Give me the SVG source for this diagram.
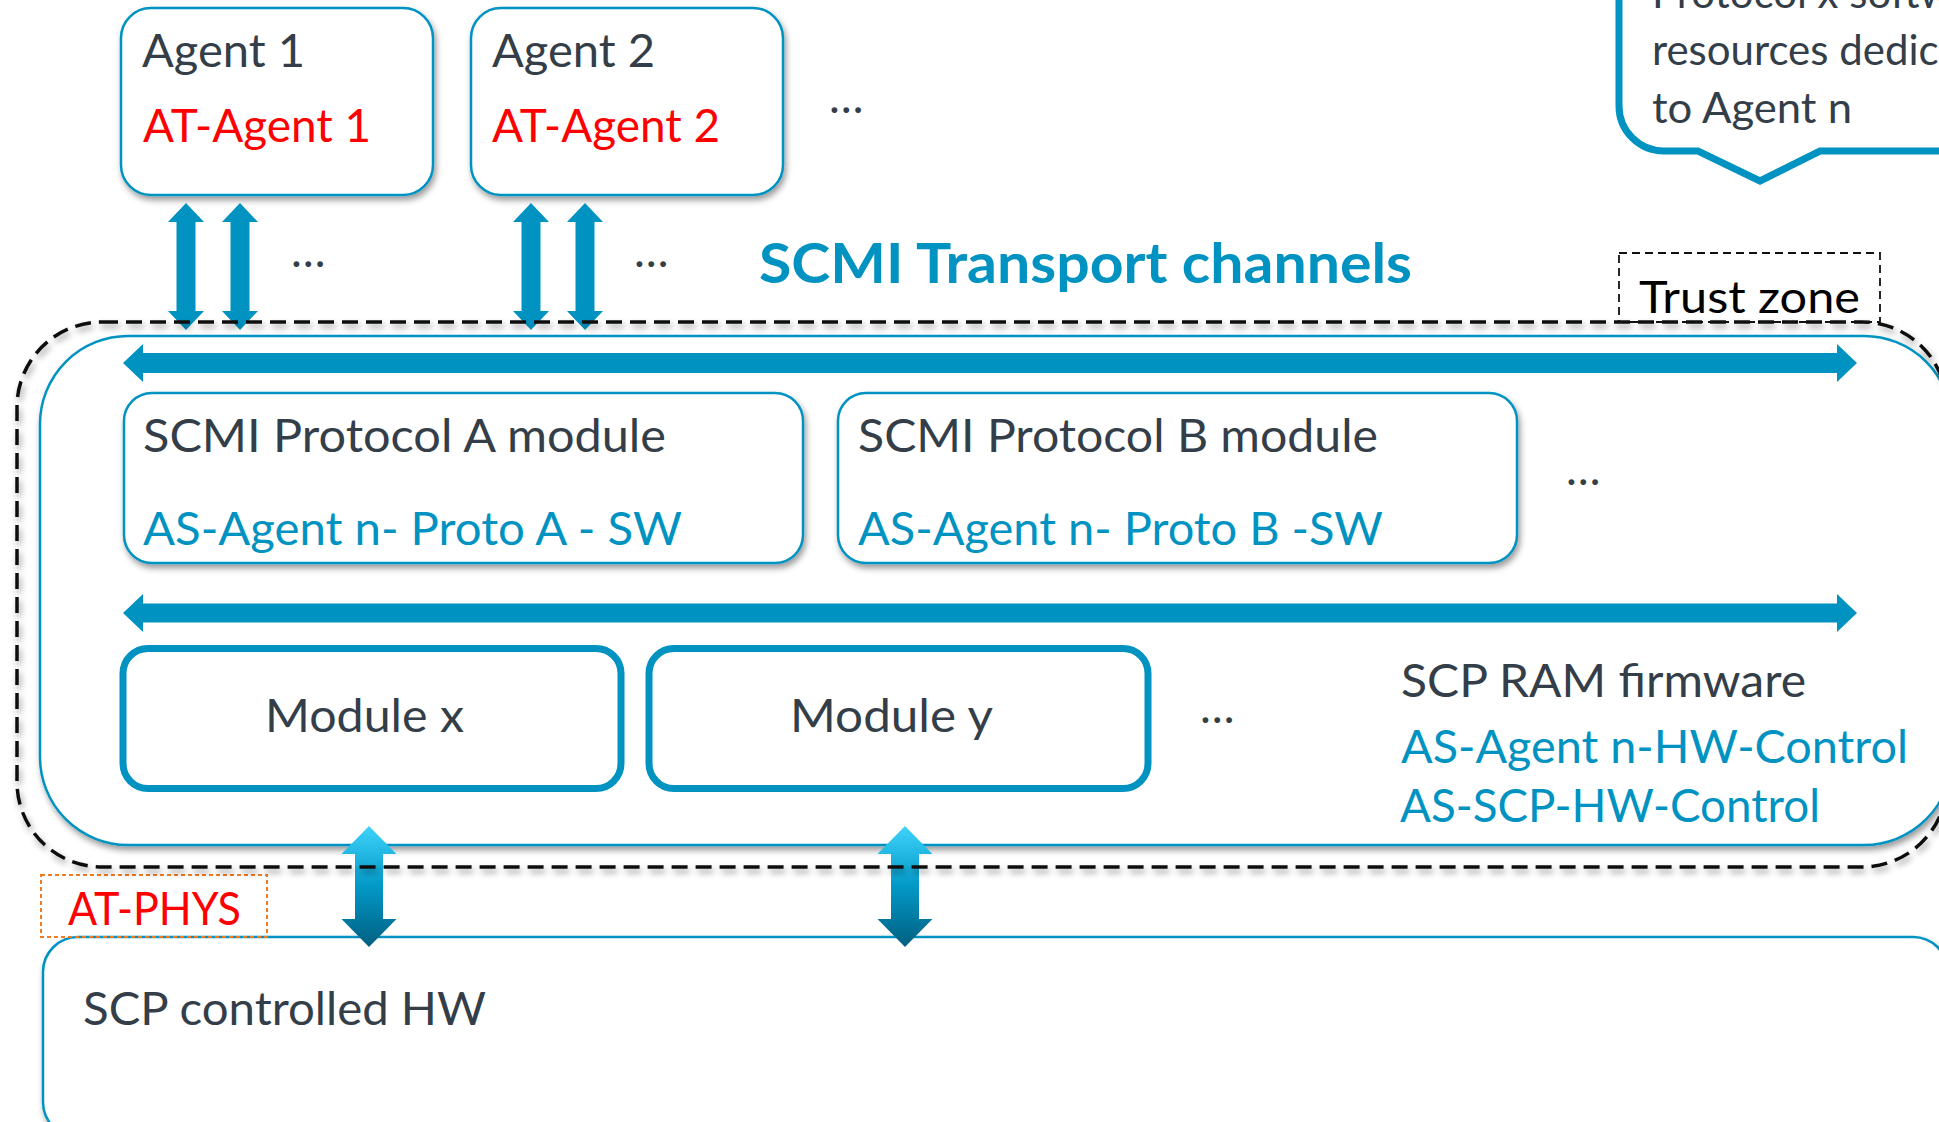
<svg xmlns="http://www.w3.org/2000/svg" width="1939" height="1122" viewBox="0 0 1939 1122">
<defs>
<filter id="sh" x="-5%" y="-10%" width="110%" height="130%">
<feDropShadow dx="2" dy="4" stdDeviation="3" flood-color="#000" flood-opacity="0.4"/>
</filter>
<linearGradient id="vg" x1="0" y1="0" x2="0" y2="1">
<stop offset="0" stop-color="#3fd3fb"/>
<stop offset="0.5" stop-color="#0298c6"/>
<stop offset="1" stop-color="#005f80"/>
</linearGradient>
</defs>
<style>
text{font-family:Lato,"Open Sans","Liberation Sans",sans-serif;font-size:46px}
.dk{fill:#343e48}
.bl{fill:#0093c2}
.rd{fill:#ff0000}
.box{fill:#fff;stroke:#0093c2;stroke-width:2.5}
.mod{fill:#fff;stroke:#0093c2;stroke-width:7}
.arr{fill:#0093c2}
.garr{fill:url(#vg)}
</style>
<rect width="1939" height="1122" fill="#fff"/>

<g id="scp-ram-firmware">
<rect class="box" x="40" y="336" width="1912" height="509" rx="88" filter="url(#sh)"/>
<text class="dk" x="1401" y="697" textLength="405" lengthAdjust="spacingAndGlyphs">SCP RAM firmware</text>
<text class="bl" x="1401" y="763" textLength="507" lengthAdjust="spacingAndGlyphs">AS-Agent n-HW-Control</text>
<text class="bl" x="1400" y="822" textLength="420" lengthAdjust="spacingAndGlyphs">AS-SCP-HW-Control</text>
</g>

<g id="scp-controlled-hw">
<rect class="box" x="43" y="937" width="1905" height="200" rx="35" filter="url(#sh)"/>
<text class="dk" x="83" y="1025" textLength="403" lengthAdjust="spacingAndGlyphs">SCP controlled HW</text>
</g>

<g id="at-phys">
<rect x="41" y="875" width="226" height="62" fill="none" stroke="#f07c22" stroke-width="2" stroke-dasharray="4 3"/>
<text class="rd" x="68" y="925" textLength="173" lengthAdjust="spacingAndGlyphs">AT-PHYS</text>
</g>

<g id="agent1">
<rect class="box" x="121" y="8" width="312" height="187" rx="30" filter="url(#sh)"/>
<text class="dk" x="142" y="67" textLength="163" lengthAdjust="spacingAndGlyphs">Agent 1</text>
<text class="rd" x="143" y="142" textLength="228" lengthAdjust="spacingAndGlyphs">AT-Agent 1</text>
</g>

<g id="agent2">
<rect class="box" x="471" y="8" width="312" height="187" rx="30" filter="url(#sh)"/>
<text class="dk" x="492" y="67" textLength="163" lengthAdjust="spacingAndGlyphs">Agent 2</text>
<text class="rd" x="492" y="142" textLength="228" lengthAdjust="spacingAndGlyphs">AT-Agent 2</text>
</g>

<g id="more-agents">
<text class="dk" x="829" y="113">…</text>
</g>

<g id="callout">
<path d="M1619,-20 V106 A45,45 0 0 0 1664,151 H1698 L1760,181 L1820,151 H1965 V-20 Z" fill="#fff" stroke="#0093c2" stroke-width="7" stroke-linejoin="miter"/>
<text class="dk" style="font-size:42px" x="1652" y="8">Protocol x software</text>
<text class="dk" style="font-size:42px" x="1652" y="65">resources dedicated</text>
<text class="dk" style="font-size:42px" x="1652" y="123" textLength="200" lengthAdjust="spacingAndGlyphs">to Agent n</text>
</g>

<g id="transport-label">
<text class="bl" x="759" y="283" style="font-size:56px;font-weight:bold" textLength="653" lengthAdjust="spacingAndGlyphs">SCMI Transport channels</text>
<text class="dk" x="291" y="267">…</text>
<text class="dk" x="634" y="267">…</text>
</g>

<g id="protocol-a">
<rect class="box" x="124" y="393" width="679" height="170" rx="28" filter="url(#sh)"/>
<text class="dk" x="143" y="452" textLength="523" lengthAdjust="spacingAndGlyphs">SCMI Protocol A module</text>
<text class="bl" x="143" y="545" textLength="539" lengthAdjust="spacingAndGlyphs">AS-Agent n- Proto A - SW</text>
</g>

<g id="protocol-b">
<rect class="box" x="838" y="393" width="679" height="170" rx="28" filter="url(#sh)"/>
<text class="dk" x="858" y="452" textLength="520" lengthAdjust="spacingAndGlyphs">SCMI Protocol B module</text>
<text class="bl" x="858" y="545" textLength="525" lengthAdjust="spacingAndGlyphs">AS-Agent n- Proto B -SW</text>
</g>

<g id="more-protocols">
<text class="dk" x="1566" y="485">…</text>
</g>

<g id="module-x">
<rect class="mod" x="123" y="648.5" width="498" height="140" rx="25"/>
<text class="dk" x="265" y="732" textLength="199" lengthAdjust="spacingAndGlyphs">Module x</text>
</g>

<g id="module-y">
<rect class="mod" x="649" y="648.5" width="499" height="140" rx="25"/>
<text class="dk" x="790" y="732" textLength="203" lengthAdjust="spacingAndGlyphs">Module y</text>
</g>

<g id="more-modules">
<text class="dk" x="1200" y="723">…</text>
</g>

<g id="connectors">
<polygon class="arr" points="186,203 204,222 195.5,222 195.5,311 204,311 186,330 168,311 176.5,311 176.5,222 168,222"/>
<polygon class="arr" points="240,203 258,222 249.5,222 249.5,311 258,311 240,330 222,311 230.5,311 230.5,222 222,222"/>
<polygon class="arr" points="531,203 549,222 540.5,222 540.5,311 549,311 531,330 513,311 521.5,311 521.5,222 513,222"/>
<polygon class="arr" points="585,203 603,222 594.5,222 594.5,311 603,311 585,330 567,311 575.5,311 575.5,222 567,222"/>
<polygon class="arr" points="123,363 143,344 143,353 1837,353 1837,344 1857,363 1837,382 1837,373 143,373 143,382"/>
<polygon class="arr" points="123,613 143,594 143,603.5 1837,603.5 1837,594 1857,613 1837,632 1837,622.5 143,622.5 143,632"/>
<polygon class="garr" points="369,826 396.5,854 383,854 383,919 396.5,919 369,947 341.5,919 355,919 355,854 341.5,854"/>
<polygon class="garr" points="905,826 932.5,854 919,854 919,919 932.5,919 905,947 877.5,919 891,919 891,854 877.5,854"/>
</g>

<g id="trust-zone">
<rect x="17" y="322" width="1930" height="545" rx="85" fill="none" stroke="#111" stroke-width="3.5" stroke-dasharray="16 8" filter="url(#sh)"/>
<rect x="1619" y="253" width="261" height="69" fill="none" stroke="#111" stroke-width="1.8" stroke-dasharray="8 5"/>
<text x="1639" y="313" fill="#000" style="font-size:44px" textLength="221" lengthAdjust="spacingAndGlyphs">Trust zone</text>
</g>
</svg>
